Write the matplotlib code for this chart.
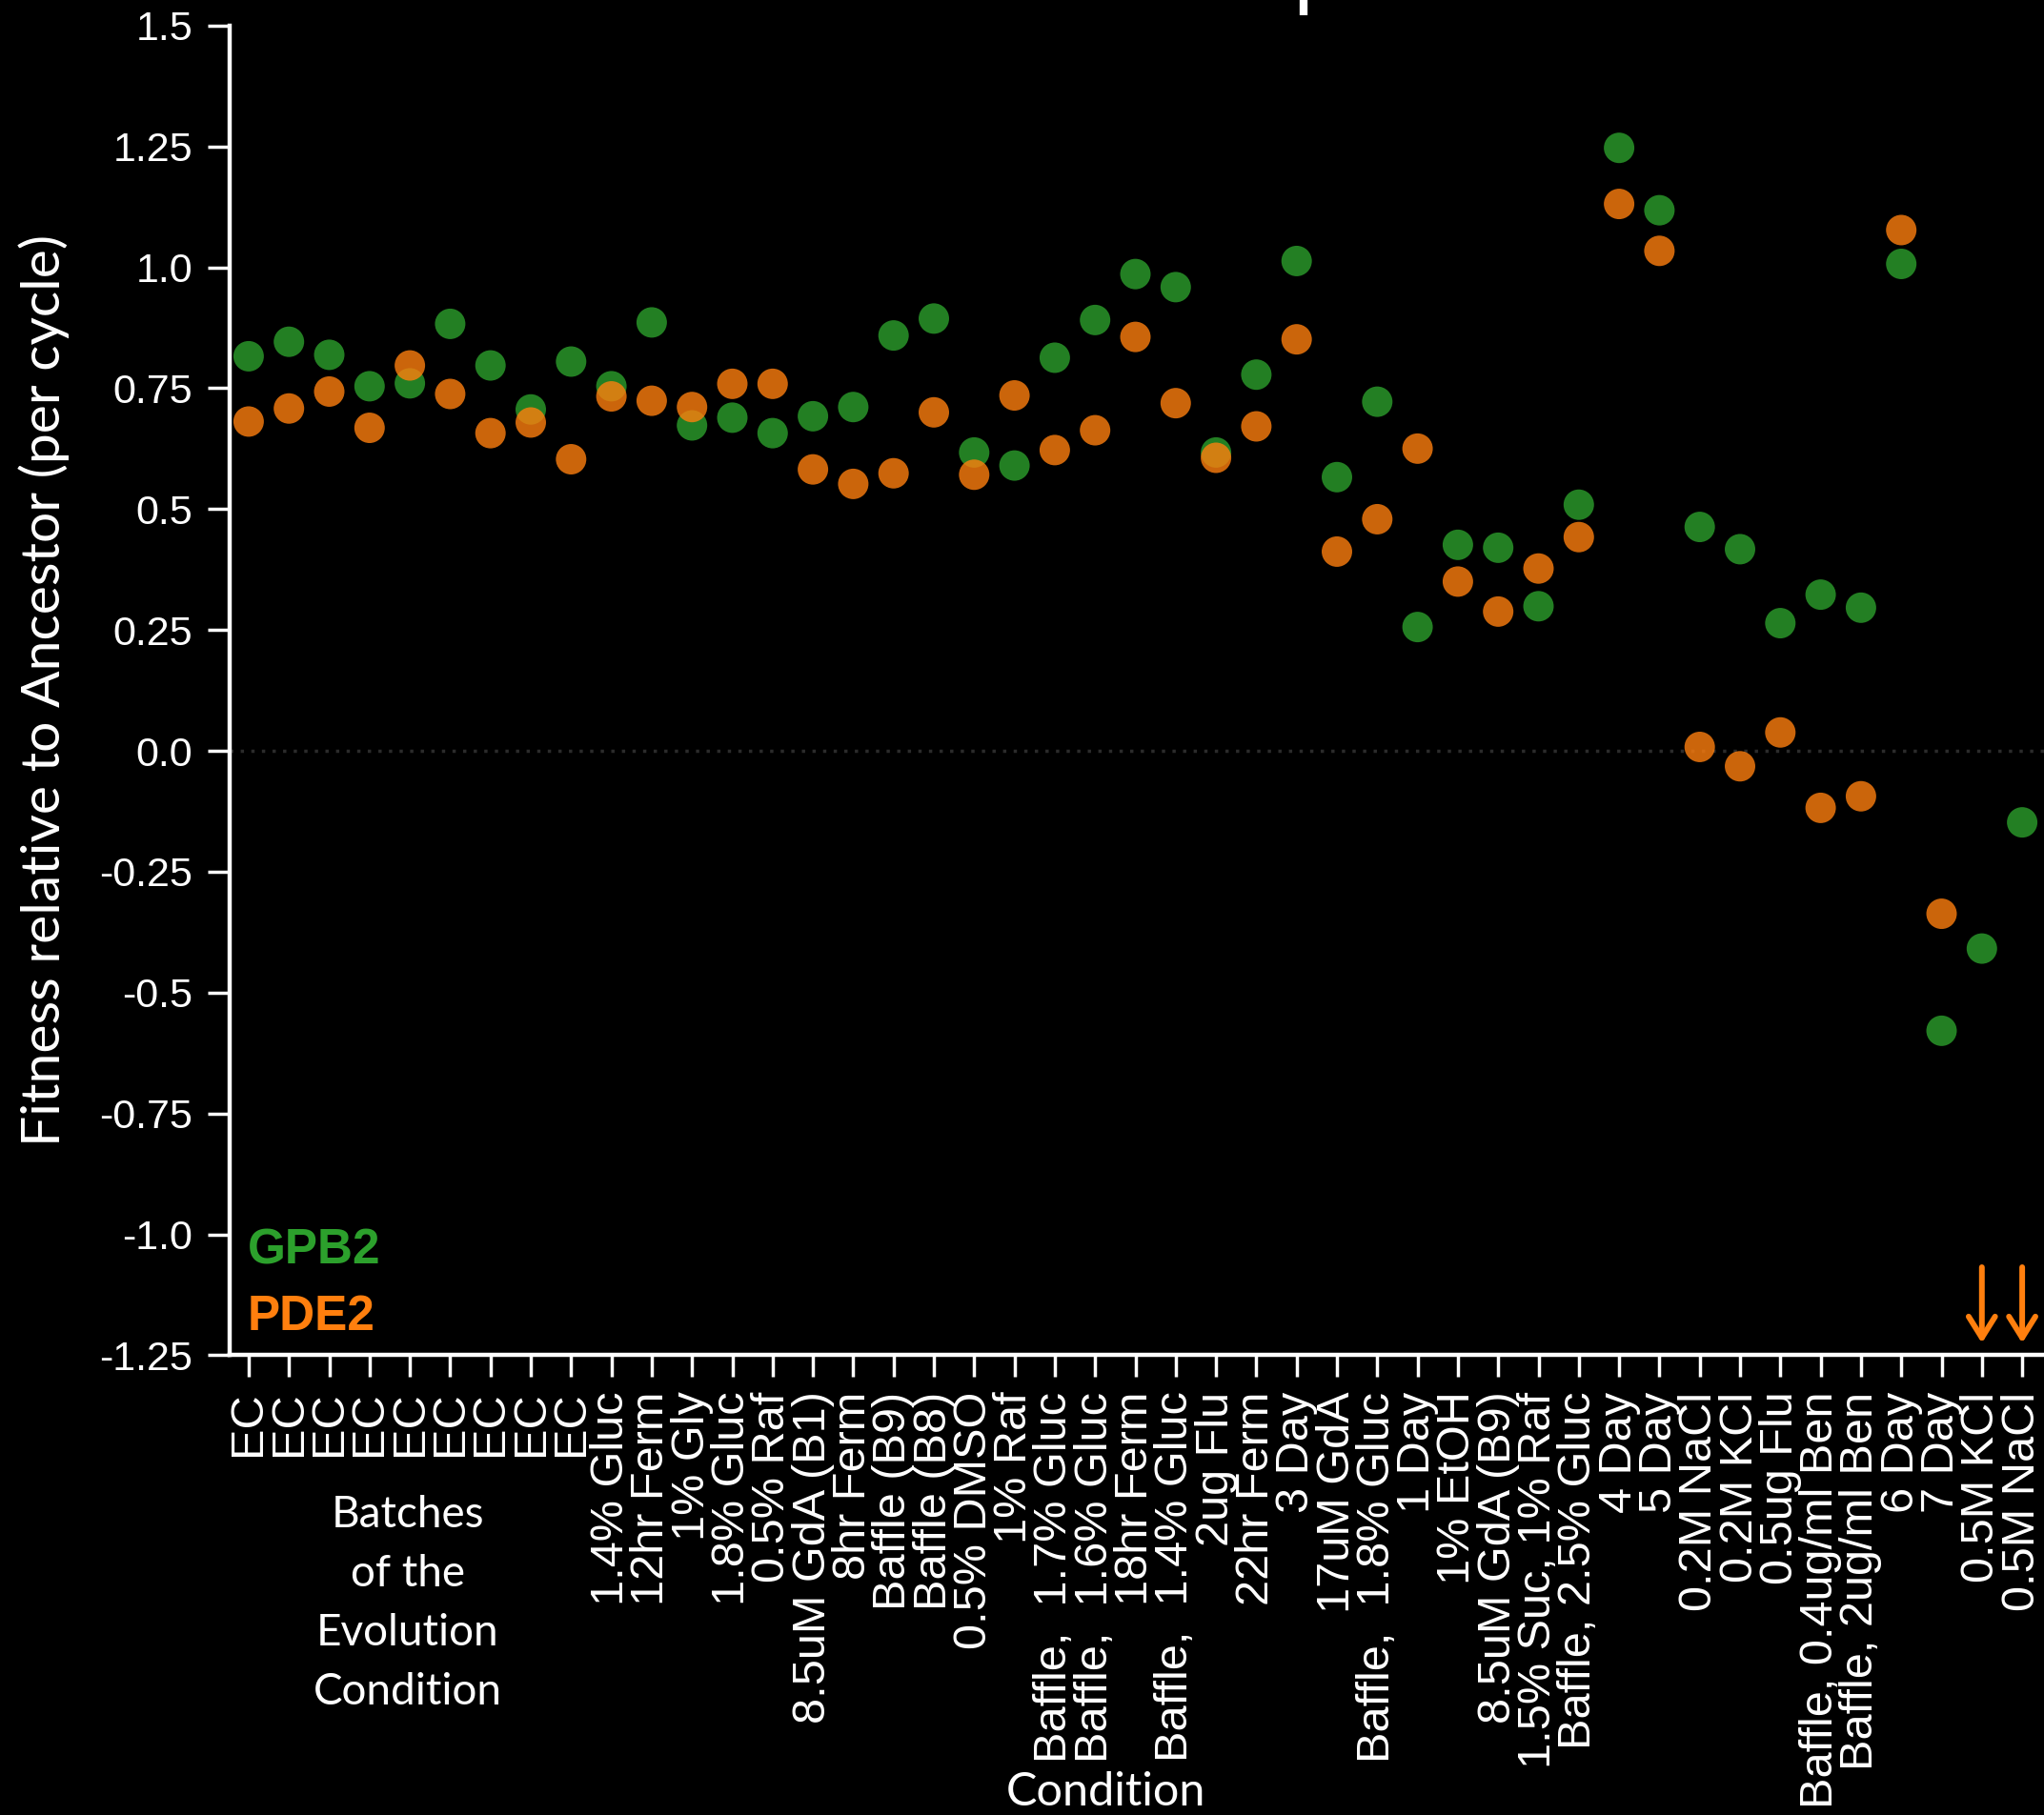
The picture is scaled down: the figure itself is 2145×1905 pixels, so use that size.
import matplotlib
matplotlib.use("Agg")
import matplotlib.pyplot as plt
from matplotlib import font_manager
from matplotlib.lines import Line2D
import numpy as np

# ---- data -------------------------------------------------------------
conditions = (
    ["EC"] * 9
    + [
        "1.4% Gluc", "12hr Ferm", "1% Gly", "1.8% Gluc", "0.5% Raf",
        "8.5uM GdA (B1)", "8hr Ferm", "Baffle (B9)", "Baffle (B8)", "0.5% DMSO",
        "1% Raf", "Baffle,  1.7% Gluc", "Baffle,  1.6% Gluc", "18hr Ferm",
        "Baffle,  1.4% Gluc", "2ug Flu", "22hr Ferm", "3 Day", "17uM GdA",
        "Baffle,  1.8% Gluc", "1 Day", "1% EtOH", "8.5uM GdA (B9)",
        "1.5% Suc, 1% Raf", "Baffle, 2.5% Gluc", "4 Day", "5 Day",
        "0.2M NaCl", "0.2M KCl", "0.5ug Flu", "Baffle, 0.4ug/ml Ben",
        "Baffle, 2ug/ml Ben", "6 Day", "7 Day", "0.5M KCl", "0.5M NaCl",
    ]
)

gpb2 = [
    0.816, 0.846, 0.819, 0.754, 0.760, 0.883, 0.797, 0.706, 0.805,
    0.754, 0.886, 0.673, 0.689, 0.657, 0.692, 0.711, 0.859, 0.894, 0.617,
    0.590, 0.813, 0.891, 0.986, 0.959, 0.617, 0.778, 1.013, 0.566, 0.722,
    0.256, 0.426, 0.420, 0.299, 0.509, 1.247, 1.118, 0.463, 0.417, 0.264,
    0.323, 0.296, 1.007, -0.579, -0.409, -0.148,
]

# None = below the plotted range (shown with an arrow)
pde2 = [
    0.681, 0.708, 0.743, 0.668, 0.797, 0.738, 0.657, 0.679, 0.603,
    0.733, 0.724, 0.711, 0.759, 0.759, 0.582, 0.552, 0.574, 0.700, 0.571,
    0.735, 0.622, 0.663, 0.856, 0.719, 0.606, 0.671, 0.851, 0.412, 0.479,
    0.625, 0.350, 0.288, 0.377, 0.442, 1.131, 1.034, 0.008, -0.032, 0.038,
    -0.118, -0.094, 1.077, -0.337, None, None,
]

yticks = [1.5, 1.25, 1.0, 0.75, 0.5, 0.25, 0.0, -0.25, -0.5, -0.75, -1.0, -1.25]
ytick_labels = ["1.5", "1.25", "1.0", "0.75", "0.5", "0.25", "0.0",
                "-0.25", "-0.5", "-0.75", "-1.0", "-1.25"]

# ---- fonts ------------------------------------------------------------
available = {f.name for f in font_manager.fontManager.ttflist}

def pick(*names):
    for n in names:
        if n in available:
            return n
    return "DejaVu Sans"

ARIAL = pick("Liberation Sans", "Arimo", "DejaVu Sans")
ROUND = pick("Lato", "Noto Sans", "DejaVu Sans")

GREEN = "#2ca02c"
ORANGE = "#ff7f0e"

W, H = 2145, 1905
fig = plt.figure(figsize=(W / 100, H / 100), dpi=100, facecolor="black")

# axes placement in pixels
x0_px, ytop_px, ybot_px = 240.6, 26.8, 1422.4
step_px = 42.3
xlim = (-0.48, 44.62)
ax_w = (xlim[1] - xlim[0]) * step_px
ax = fig.add_axes([x0_px / W, (H - ybot_px) / H, ax_w / W, (ybot_px - ytop_px) / H])
ax.set_facecolor("black")

x = np.arange(len(conditions))
g = np.array(gpb2, dtype=float)
p = np.array([np.nan if v is None else v for v in pde2], dtype=float)

ax.axhline(0, color="#2b2b2b", lw=2.5, linestyle=(0, (1, 2.2)), zorder=1)
ax.scatter(x, g, s=530, color=GREEN, alpha=0.8, edgecolors="none", zorder=3)
ax.scatter(x, p, s=530, color=ORANGE, alpha=0.8, edgecolors="none", zorder=4)

# off-scale PDE2 values
for i, v in enumerate(pde2):
    if v is None:
        ax.annotate("", xy=(i, -1.225), xytext=(i, -1.068),
                    arrowprops=dict(arrowstyle="->,head_length=0.8,head_width=0.5",
                                    color=ORANGE, lw=4.3, mutation_scale=20,
                                    shrinkA=0, shrinkB=0, capstyle="round"),
                    zorder=5)

ax.set_xlim(*xlim)
ax.set_ylim(-1.25, 1.5)
ax.set_yticks(yticks)
ax.set_yticklabels(ytick_labels, fontfamily=ARIAL, fontsize=31, color="white")
ax.set_xticks(x)
ax.set_xticklabels(conditions, rotation=90, fontfamily=ARIAL, fontsize=35,
                   color="white", ha="center", va="top")

for side in ("top", "right"):
    ax.spines[side].set_visible(False)
for side in ("left", "bottom"):
    ax.spines[side].set_color("white")
    ax.spines[side].set_linewidth(3.2)

ax.tick_params(axis="both", direction="out", length=16.5, width=2.5, color="white")
ax.tick_params(axis="y", pad=11)
ax.tick_params(axis="x", pad=11)

ax.set_ylabel("Fitness relative to Ancestor (per cycle)", fontfamily=ROUND,
              fontsize=41, color="white", labelpad=23)

# series labels
ax.text(-0.02, -1.062, "GPB2", color=GREEN, fontfamily=ARIAL, fontweight="bold",
        fontsize=37, ha="left", va="baseline")
ax.text(-0.02, -1.198, "PDE2", color=ORANGE, fontfamily=ARIAL, fontweight="bold",
        fontsize=37, ha="left", va="baseline")

fig.text(428 / W, 1 - 1683 / H, "Batches\nof the\nEvolution\nCondition",
         ha="center", va="center", fontfamily=ROUND,
         fontsize=33, color="white", linespacing=1.58)
fig.text(1160 / W, 1 - 1881 / H, "Condition", ha="center", va="center",
         fontfamily=ROUND, fontsize=35, color="white")

# clipped title stroke at the top edge
fig.add_artist(Line2D([1368 / W, 1368 / W], [1.0, 1 - 16 / H],
                      transform=fig.transFigure, color="white", lw=6,
                      solid_capstyle="butt"))

fig.savefig("out.png", dpi=100, facecolor="black")
